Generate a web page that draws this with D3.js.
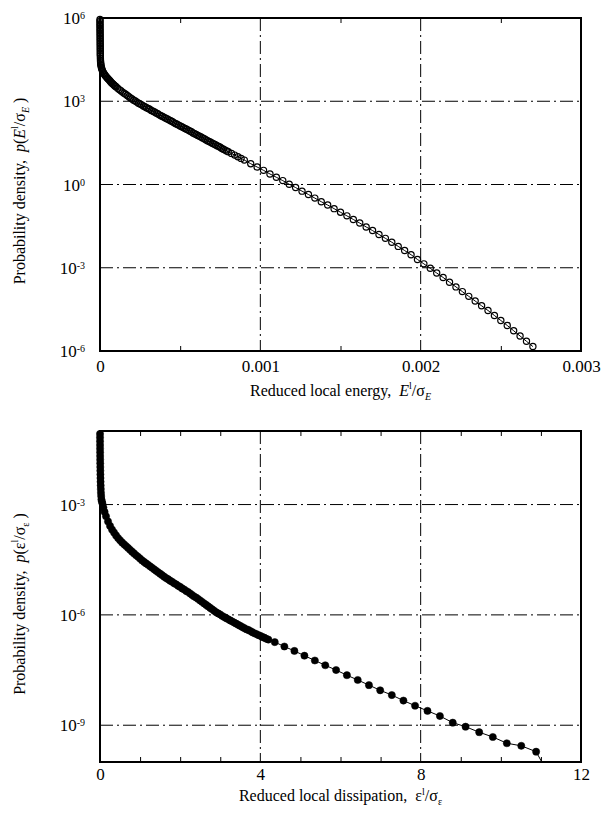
<!DOCTYPE html>
<html>
<head>
<meta charset="utf-8">
<script src="https://cdnjs.cloudflare.com/ajax/libs/d3/7.8.5/d3.min.js"></script>
<style>
  body { margin: 0; background: #fff; }
  svg { display: block; }
  text { font-family: "Liberation Serif", "Times New Roman", serif; fill: #000; }
</style>
</head>
<body>
<svg id="chart" width="602" height="814"></svg>
<script>
// ---- top panel: reduced local energy (x in units of 1e-3, y as log10 of density)
const energyX = [
  0.00002, 0.00005, 0.0001, 0.00015, 0.0002, 0.0003, 0.0004, 0.0005, 0.0006, 0.0007,
  0.0008, 0.0009, 0.001, 0.0011, 0.0012, 0.0013, 0.0014, 0.0015, 0.0016, 0.0017,
  0.0018, 0.0019, 0.002, 0.0025, 0.003, 0.0035, 0.004, 0.005, 0.006, 0.008,
  0.010, 0.012, 0.015, 0.018, 0.022, 0.026, 0.030, 0.035, 0.040, 0.045,
  0.050, 0.055, 0.060, 0.065, 0.070, 0.075, 0.080, 0.085, 0.090, 0.095, 0.100,
  0.11, 0.12, 0.13, 0.14, 0.15, 0.16, 0.17, 0.18, 0.19, 0.20,
  0.21, 0.22, 0.23, 0.24, 0.25, 0.26, 0.27, 0.28, 0.29, 0.30,
  0.31, 0.32, 0.33, 0.34, 0.35, 0.36, 0.37, 0.38, 0.39, 0.40,
  0.41, 0.42, 0.43, 0.44, 0.45, 0.46, 0.47, 0.48, 0.49, 0.50,
  0.51, 0.52, 0.53, 0.54, 0.55, 0.56, 0.57, 0.58, 0.59, 0.60,
  0.61, 0.62, 0.63, 0.64, 0.65, 0.66, 0.67, 0.68, 0.69, 0.70,
  0.71, 0.72, 0.73, 0.74, 0.75, 0.76, 0.77, 0.78, 0.79, 0.80,
  0.82, 0.84, 0.86, 0.88, 0.90, 0.94, 0.98,
  1.02, 1.06, 1.10, 1.14, 1.18, 1.22, 1.26, 1.30, 1.34, 1.38, 1.42, 1.46, 1.50,
  1.54, 1.58, 1.62, 1.66, 1.70, 1.74, 1.78, 1.82, 1.86, 1.90, 1.94, 1.98,
  2.02, 2.06, 2.10, 2.14, 2.18, 2.22, 2.26, 2.30, 2.34, 2.38, 2.42, 2.46, 2.50,
  2.54, 2.58, 2.62, 2.66, 2.70
];
const energyLogP = [
  5.95, 5.89, 5.83, 5.77, 5.71, 5.65, 5.59, 5.53, 5.47, 5.41,
  5.35, 5.29, 5.23, 5.17, 5.11, 5.05, 4.99, 4.93, 4.87, 4.81,
  4.75, 4.69, 4.63, 4.55, 4.48, 4.42, 4.38, 4.33, 4.29, 4.23,
  4.19, 4.15, 4.10, 4.06, 4.02, 3.98, 3.95, 3.91, 3.88, 3.84,
  3.81, 3.78, 3.75, 3.71, 3.68, 3.65, 3.62, 3.60, 3.57, 3.54, 3.52,
  3.47, 3.42, 3.38, 3.33, 3.29, 3.25, 3.21, 3.16, 3.12, 3.08,
  3.04, 3.01, 2.97, 2.93, 2.90, 2.87, 2.83, 2.80, 2.77, 2.74,
  2.71, 2.67, 2.64, 2.61, 2.58, 2.55, 2.51, 2.48, 2.45, 2.42,
  2.39, 2.36, 2.33, 2.30, 2.27, 2.23, 2.20, 2.17, 2.14, 2.11,
  2.08, 2.05, 2.02, 1.99, 1.96, 1.93, 1.90, 1.86, 1.83, 1.80,
  1.77, 1.74, 1.71, 1.68, 1.65, 1.61, 1.58, 1.55, 1.52, 1.49,
  1.46, 1.43, 1.40, 1.37, 1.34, 1.30, 1.27, 1.24, 1.21, 1.18,
  1.12, 1.06, 1.00, 0.94, 0.88, 0.75, 0.63,
  0.51, 0.38, 0.26, 0.14, 0.01, -0.11, -0.24, -0.36, -0.49, -0.62, -0.74, -0.87, -1.00,
  -1.13, -1.26, -1.39, -1.53, -1.66, -1.80, -1.94, -2.08, -2.23, -2.38, -2.53, -2.70,
  -2.86, -3.02, -3.19, -3.35, -3.52, -3.69, -3.86, -4.03, -4.20, -4.37, -4.54, -4.72, -4.90,
  -5.08, -5.27, -5.46, -5.65, -5.84
];
const energyXTicks = [0, 1, 2, 3];
const energyXTickLabels = ["0", "0.001", "0.002", "0.003"];
const energyXMinor = [0.5, 1.5, 2.5];
const energyXGrid = [1, 2];
const energyYExp = [-6, -3, 0, 3, 6];
const energyYGrid = [-3, 0, 3];

// ---- bottom panel: reduced local dissipation (y as log10 of density)
const dissX = [
  0.0003, 0.0006, 0.001, 0.0015, 0.002, 0.0027, 0.0035, 0.0045, 0.0057, 0.007,
  0.0085, 0.010, 0.012, 0.014, 0.017, 0.020, 0.024, 0.029, 0.035, 0.045,
  0.06, 0.085, 0.115, 0.15, 0.2, 0.25, 0.3, 0.35, 0.4, 0.45,
  0.5, 0.55, 0.6, 0.65, 0.7, 0.75, 0.8, 0.85, 0.9, 0.95, 1.0,
  1.05, 1.10, 1.15, 1.20, 1.25, 1.30, 1.35, 1.40, 1.45, 1.50,
  1.55, 1.60, 1.65, 1.70, 1.75, 1.80, 1.85, 1.90, 1.95, 2.00,
  2.05, 2.10, 2.15, 2.20, 2.25, 2.30, 2.35, 2.40, 2.45, 2.50,
  2.55, 2.60, 2.65, 2.70, 2.75, 2.80, 2.85, 2.90, 2.95, 3.00,
  3.05, 3.10, 3.15, 3.20, 3.25, 3.30, 3.35, 3.40, 3.45, 3.50,
  3.55, 3.60, 3.65, 3.70, 3.75, 3.80, 3.85, 3.90, 3.95, 4.00,
  4.05, 4.10, 4.15, 4.20,
  4.36, 4.60, 4.85, 5.10, 5.36, 5.62, 5.89, 6.16, 6.43, 6.71, 6.99, 7.28,
  7.57, 7.86, 8.17, 8.48, 8.80, 9.12, 9.46, 9.80, 10.15, 10.51, 10.88, 11.25
];
const dissLogP = [
  -1.08, -1.18, -1.28, -1.38, -1.48, -1.58, -1.68, -1.78, -1.88, -1.98,
  -2.08, -2.18, -2.28, -2.38, -2.48, -2.58, -2.68, -2.77, -2.86, -2.91,
  -2.97, -3.08, -3.20, -3.32, -3.46, -3.58, -3.68, -3.76, -3.84, -3.91,
  -3.97, -4.03, -4.08, -4.13, -4.18, -4.23, -4.28, -4.33, -4.38, -4.42, -4.47,
  -4.52, -4.56, -4.60, -4.64, -4.68, -4.72, -4.76, -4.80, -4.84, -4.88,
  -4.92, -4.96, -5.00, -5.03, -5.07, -5.10, -5.14, -5.17, -5.21, -5.24,
  -5.28, -5.31, -5.35, -5.38, -5.42, -5.46, -5.50, -5.53, -5.57, -5.61,
  -5.65, -5.69, -5.73, -5.77, -5.81, -5.85, -5.89, -5.93, -5.96, -5.99,
  -6.03, -6.06, -6.09, -6.12, -6.15, -6.18, -6.21, -6.24, -6.27, -6.30,
  -6.33, -6.36, -6.39, -6.41, -6.44, -6.47, -6.50, -6.52, -6.55, -6.57,
  -6.60, -6.62, -6.65, -6.67,
  -6.74, -6.86, -6.98, -7.11, -7.24, -7.37, -7.50, -7.64, -7.77, -7.91, -8.05, -8.18,
  -8.33, -8.47, -8.61, -8.75, -8.93, -9.04, -9.19, -9.32, -9.49, -9.56, -9.72, -10.45
];
const dissXTicks = [0, 4, 8, 12];
const dissXTickLabels = ["0", "4", "8", "12"];
const dissXMinor = [1, 2, 3, 5, 6, 7, 9, 10, 11];
const dissXGrid = [4, 8];
const dissYExp = [-9, -6, -3];
const dissYGrid = [-9, -6, -3];

const svg = d3.select("#chart");
const left = 100, right = 581;

// add tspans for titles with super/subscripts
function rich(textSel, parts) {
  parts.forEach(p => {
    const t = textSel.append("tspan").text(p.t);
    if (p.it) t.attr("font-style", "italic");
    if (p.fs) t.attr("font-size", p.fs);
    if (p.dy) t.attr("dy", p.dy);
    if (p.dx) t.attr("dx", p.dx);
  });
}

function drawPanel(cfg) {
  const x = d3.scaleLinear().domain(cfg.xDomain).range([left, right]);
  const y = d3.scaleLinear().domain(cfg.yDomain).range([cfg.bottom, cfg.top]);
  const g = svg.append("g");

  svg.append("clipPath").attr("id", cfg.id + "-clip")
    .append("rect").attr("x", left - 6).attr("y", cfg.top - 6)
    .attr("width", right - left + 6).attr("height", cfg.bottom - cfg.top + 6);

  // dash-dot grid
  g.selectAll(".gx").data(cfg.xGrid).join("line")
    .attr("x1", d => x(d)).attr("x2", d => x(d))
    .attr("y1", cfg.top).attr("y2", cfg.bottom)
    .attr("stroke", "#000").attr("stroke-width", 1).attr("stroke-dasharray", "13,4,2,4");
  g.selectAll(".gy").data(cfg.yGrid).join("line")
    .attr("x1", left).attr("x2", right)
    .attr("y1", d => y(d)).attr("y2", d => y(d))
    .attr("stroke", "#000").attr("stroke-width", 1).attr("stroke-dasharray", "13,4,2,4");

  // frame
  g.append("rect").attr("x", left).attr("y", cfg.top)
    .attr("width", right - left).attr("height", cfg.bottom - cfg.top)
    .attr("fill", "none").attr("stroke", "#000").attr("stroke-width", 2);

  // inward minor ticks on bottom and top edges
  const minorB = d3.axisBottom(x).tickValues(cfg.xMinor).tickSize(-5).tickFormat("");
  const minorT = d3.axisTop(x).tickValues(cfg.xMinor).tickSize(-5).tickFormat("");
  g.append("g").attr("transform", `translate(0,${cfg.bottom})`).call(minorB)
    .call(a => a.select(".domain").remove());
  g.append("g").attr("transform", `translate(0,${cfg.top})`).call(minorT)
    .call(a => a.select(".domain").remove());
  g.selectAll(".tick line").attr("stroke", "#000").attr("stroke-width", 1);

  // x tick labels
  const ax = d3.axisBottom(x).tickValues(cfg.xTicks).tickSize(0).tickPadding(cfg.tickPad)
    .tickFormat((d, i) => cfg.xLabels[i]);
  g.append("g").attr("transform", `translate(0,${cfg.bottom})`).call(ax)
    .call(a => a.select(".domain").remove())
    .selectAll("text").attr("font-family", "Liberation Serif").attr("font-size", 17).attr("fill", "#000");

  // y tick labels 10^n
  const yl = g.selectAll(".ylab").data(cfg.yExp).join("text")
    .attr("x", 85).attr("y", d => y(d) + 6)
    .attr("text-anchor", "end").attr("font-size", 17);
  yl.append("tspan").text("10");
  yl.append("tspan").attr("font-size", 10).attr("dy", -5).text(d => d);

  // data line + markers
  const pts = cfg.xs.map((v, i) => [x(v), y(cfg.ys[i])]);
  const dg = g.append("g").attr("clip-path", `url(#${cfg.id}-clip)`);
  dg.append("path").datum(pts)
    .attr("d", d3.line())
    .attr("fill", "none").attr("stroke", "#000").attr("stroke-width", 1);
  dg.selectAll("circle").data(pts).join("circle")
    .attr("cx", d => d[0]).attr("cy", d => d[1])
    .attr("r", cfg.r)
    .attr("fill", cfg.filled ? "#000" : "none")
    .attr("stroke", "#000").attr("stroke-width", cfg.filled ? 0.5 : 1.2);

  // axis titles
  const xt = g.append("text").attr("x", (left + right) / 2).attr("y", cfg.xTitleY)
    .attr("text-anchor", "middle").attr("font-size", 16);
  rich(xt, cfg.xTitle);
  const yt = g.append("text")
    .attr("transform", `translate(25,${cfg.yTitleY}) rotate(-90)`)
    .attr("text-anchor", "middle").attr("font-size", 16);
  rich(yt, cfg.yTitle);
}

drawPanel({
  id: "energy", top: 18, bottom: 351,
  xDomain: [0, 3], yDomain: [-6, 6],
  xs: energyX, ys: energyLogP,
  xTicks: energyXTicks, xLabels: energyXTickLabels, xMinor: energyXMinor,
  xGrid: energyXGrid, yGrid: energyYGrid, yExp: energyYExp,
  r: 3.1, filled: false, tickPad: 9,
  xTitleY: 396, yTitleY: 191,
  xTitle: [
    { t: "Reduced local energy," },
    { t: "E", it: 1, dx: 8 }, { t: "l", fs: 10, dy: -7 },
    { t: "/σ", dy: 7 }, { t: "E", it: 1, fs: 10, dy: 4 }
  ],
  yTitle: [
    { t: "Probability density," },
    { t: "p", it: 1, dx: 8 }, { t: "(" },
    { t: "E", it: 1 }, { t: "l", fs: 10, dy: -7 },
    { t: "/σ", dy: 7 }, { t: "E", it: 1, fs: 10, dy: 4 }, { t: " )", dy: -4 }
  ]
});

drawPanel({
  id: "diss", top: 431, bottom: 762,
  xDomain: [0, 12], yDomain: [-10, -1],
  xs: dissX, ys: dissLogP,
  xTicks: dissXTicks, xLabels: dissXTickLabels, xMinor: dissXMinor,
  xGrid: dissXGrid, yGrid: dissYGrid, yExp: dissYExp,
  r: 3.6, filled: true, tickPad: 6,
  xTitleY: 801, yTitleY: 604,
  xTitle: [
    { t: "Reduced local dissipation," },
    { t: "ε", dx: 8 }, { t: "l", fs: 10, dy: -6 },
    { t: "/σ", dy: 6 }, { t: "ε", fs: 10, dy: 4 }
  ],
  yTitle: [
    { t: "Probability density," },
    { t: "p", it: 1, dx: 8 }, { t: "(ε" },
    { t: "l", fs: 10, dy: -7 },
    { t: "/σ", dy: 7 }, { t: "ε", fs: 10, dy: 4 }, { t: " )", dy: -4 }
  ]
});
</script>
</body>
</html>
